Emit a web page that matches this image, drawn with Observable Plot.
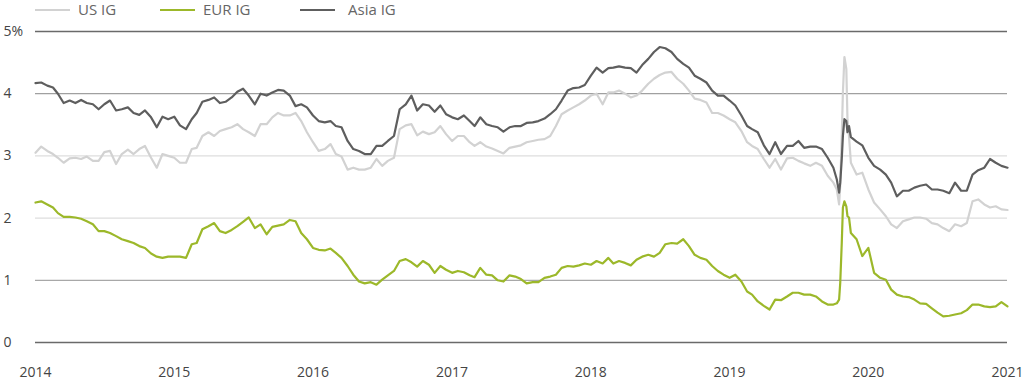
<!DOCTYPE html>
<html>
<head>
<meta charset="utf-8">
<script src="https://cdn.jsdelivr.net/npm/d3@7"></script>
<script src="https://cdn.jsdelivr.net/npm/@observablehq/plot@0.6"></script>
<style>
  html, body { margin: 0; padding: 0; background: #fff; }
  body { width: 1024px; height: 382px; overflow: hidden; font-family: "Open Sans", sans-serif; }
  #legend { position: relative; height: 20px; width: 1024px; font-size: 15px; color: #666; }
  #legend .sw { position: absolute; top: 9px; width: 35px; height: 2px; }
  #legend .lb { position: absolute; top: 0px; line-height: 18px; }
</style>
</head>
<body>
<div id="legend"></div>
<div id="chart"></div>
<script>
// ---- data ----
const seriesNames = ["US IG", "EUR IG", "Asia IG"];
const seriesColors = ["#d2d2d2", "#9cb82a", "#5e5e5e"];

const dates = [
  "2014-01-01","2014-01-16","2014-02-01","2014-02-16","2014-03-01","2014-03-16","2014-04-01","2014-04-16","2014-05-01","2014-05-16","2014-06-01","2014-06-16",
  "2014-07-01","2014-07-16","2014-08-01","2014-08-16","2014-09-01","2014-09-16","2014-10-01","2014-10-16","2014-11-01","2014-11-16","2014-12-01","2014-12-16",
  "2015-01-01","2015-01-16","2015-02-01","2015-02-16","2015-03-01","2015-03-16","2015-04-01","2015-04-16","2015-05-01","2015-05-16",
  "2015-06-01","2015-06-16","2015-07-01","2015-07-16","2015-08-01","2015-08-16","2015-09-01","2015-09-16","2015-10-01","2015-10-16","2015-11-01","2015-11-16","2015-12-01","2015-12-16",
  "2016-01-01","2016-01-16","2016-02-01","2016-02-16","2016-03-01","2016-03-16","2016-04-01","2016-04-16","2016-05-01","2016-05-16","2016-06-01","2016-06-16",
  "2016-07-01","2016-07-16","2016-08-01","2016-08-16","2016-09-01","2016-09-16","2016-10-01","2016-10-16",
  "2016-11-01","2016-11-16","2016-12-01","2016-12-16",
  "2017-01-01","2017-01-16","2017-02-01","2017-02-16","2017-03-01","2017-03-16","2017-04-01","2017-04-16","2017-05-01","2017-05-16","2017-06-01","2017-06-16",
  "2017-07-01","2017-07-16","2017-08-01","2017-08-16","2017-09-01","2017-09-16","2017-10-01","2017-10-16","2017-11-01","2017-11-16","2017-12-01","2017-12-16",
  "2018-01-01","2018-01-16","2018-02-01","2018-02-16","2018-03-01",
  "2018-03-16","2018-04-01","2018-04-16","2018-05-01","2018-05-16","2018-06-01","2018-06-16","2018-07-01","2018-07-16","2018-08-01","2018-08-16",
  "2018-09-01","2018-09-16","2018-10-01","2018-10-16","2018-11-01","2018-11-16","2018-12-01","2018-12-16",
  "2019-01-01","2019-01-16","2019-02-01","2019-02-16","2019-03-01","2019-03-16","2019-04-01","2019-04-16","2019-05-01","2019-05-16","2019-06-01","2019-06-16","2019-07-01","2019-07-16","2019-08-01",
  "2019-08-16","2019-09-01","2019-09-16","2019-10-01","2019-10-10","2019-10-16","2019-10-19","2019-10-23","2019-10-26","2019-10-30","2019-11-04","2019-11-07","2019-11-11","2019-11-16",
  "2019-12-01","2019-12-16","2020-01-01","2020-01-16","2020-02-01","2020-02-16","2020-03-01","2020-03-16","2020-04-01","2020-04-16","2020-05-01","2020-05-16",
  "2020-06-01","2020-06-16","2020-07-01","2020-07-16","2020-08-01","2020-08-16","2020-09-01","2020-09-16","2020-10-01","2020-10-16","2020-11-01","2020-11-16",
  "2020-12-01","2020-12-16","2021-01-01"
];

const usIG = [
  3.05,3.15,3.08,3.03,2.97,2.89,2.96,2.97,2.95,2.99,2.92,2.92,3.06,3.08,2.87,3.03,3.10,3.03,3.11,3.16,2.97,2.81,3.03,3.00,2.97,2.89,2.89,3.11,3.13,3.32,3.38,3.32,3.40,3.43,
  3.46,3.51,3.43,3.38,3.32,3.51,3.51,3.62,3.69,3.65,3.65,3.69,3.56,3.38,3.22,3.08,3.11,3.19,3.03,2.99,2.78,2.81,2.78,2.78,2.81,2.95,2.84,2.92,2.97,3.43,3.49,3.51,3.33,3.39,
  3.35,3.38,3.48,3.35,3.24,3.32,3.32,3.22,3.16,3.22,3.15,3.12,3.08,3.04,3.13,3.15,3.17,3.22,3.24,3.26,3.27,3.32,3.48,3.67,3.73,3.78,3.83,3.89,3.97,4.00,3.83,4.02,4.02,
  4.05,4.00,3.94,3.97,4.05,4.16,4.24,4.30,4.34,4.35,4.24,4.16,4.05,3.92,3.90,3.86,3.69,3.69,3.65,3.59,3.54,3.40,3.22,3.16,3.11,2.95,2.81,2.95,2.78,2.96,2.97,2.92,2.88,2.84,
  2.89,2.84,2.68,2.57,2.46,2.22,2.52,3.32,4.02,4.59,4.40,3.59,3.32,2.89,2.70,2.73,2.46,2.25,2.14,2.03,1.90,1.84,1.95,1.98,2.01,2.01,1.99,1.92,1.90,1.84,1.79,1.90,1.87,1.92,2.27,2.30,2.22,2.17,2.19,2.14,2.13
];

const eurIG = [
  2.25,2.27,2.22,2.17,2.08,2.02,2.02,2.01,1.99,1.95,1.90,1.79,1.79,1.76,1.71,1.66,1.63,1.60,1.55,1.52,1.43,1.38,1.36,1.38,1.38,1.38,1.36,1.58,1.60,1.82,1.87,1.92,1.79,1.76,
  1.81,1.87,1.94,2.01,1.84,1.90,1.74,1.86,1.88,1.90,1.97,1.95,1.76,1.66,1.52,1.49,1.48,1.51,1.44,1.36,1.23,1.09,0.98,0.95,0.97,0.93,1.01,1.08,1.15,1.31,1.34,1.29,1.22,1.31,
  1.25,1.12,1.23,1.17,1.12,1.15,1.13,1.08,1.05,1.20,1.09,1.08,1.00,0.98,1.08,1.06,1.02,0.95,0.97,0.97,1.04,1.06,1.09,1.20,1.23,1.22,1.24,1.27,1.25,1.31,1.27,1.36,1.27,
  1.31,1.28,1.24,1.33,1.38,1.41,1.38,1.44,1.58,1.60,1.59,1.66,1.55,1.41,1.36,1.33,1.23,1.15,1.09,1.04,1.09,0.98,0.82,0.77,0.66,0.59,0.53,0.69,0.68,0.74,0.80,0.80,0.77,0.77,
  0.74,0.66,0.61,0.61,0.63,0.69,0.96,1.60,2.17,2.27,2.19,2.03,2.01,1.76,1.66,1.39,1.52,1.12,1.04,1.01,0.85,0.77,0.74,0.73,0.69,0.63,0.62,0.55,0.48,0.42,0.43,0.45,0.47,0.52,0.61,0.61,0.58,0.57,0.58,0.65,0.58
];

const asiaIG = [
  4.17,4.18,4.13,4.10,4.00,3.85,3.89,3.85,3.90,3.85,3.83,3.75,3.83,3.89,3.73,3.75,3.78,3.69,3.66,3.73,3.62,3.46,3.63,3.59,3.63,3.49,3.43,3.59,3.69,3.87,3.90,3.94,3.85,3.87,
  3.94,4.03,4.08,3.97,3.83,4.00,3.97,4.02,4.06,4.05,3.97,3.80,3.83,3.78,3.65,3.56,3.54,3.56,3.48,3.46,3.24,3.11,3.08,3.03,3.03,3.16,3.16,3.24,3.32,3.75,3.83,3.97,3.73,3.83,
  3.81,3.71,3.81,3.67,3.62,3.59,3.65,3.56,3.48,3.62,3.51,3.48,3.46,3.39,3.46,3.48,3.48,3.53,3.54,3.56,3.60,3.67,3.75,3.89,4.05,4.09,4.10,4.14,4.29,4.42,4.34,4.41,4.42,
  4.44,4.42,4.41,4.34,4.46,4.56,4.67,4.75,4.73,4.67,4.56,4.48,4.42,4.29,4.24,4.18,4.05,3.97,3.97,3.89,3.81,3.65,3.48,3.43,3.38,3.17,3.03,3.22,3.03,3.16,3.16,3.24,3.13,3.15,
  3.15,3.11,2.97,2.81,2.62,2.41,2.57,2.95,3.32,3.59,3.56,3.38,3.48,3.30,3.23,3.17,2.97,2.84,2.78,2.70,2.57,2.35,2.44,2.44,2.49,2.52,2.54,2.46,2.46,2.44,2.40,2.57,2.44,2.44,2.70,2.77,2.81,2.95,2.89,2.84,2.81
];

const yTicks = [0, 1, 2, 3, 4, 5];
const yTickLabels = ["0", "1", "2", "3", "4", "5%"];
const gridColors = ["#6a6a6a", "#a8a8a8", "#dedede", "#dedede", "#a0a0a0", "#6a6a6a"];
const xTickYears = [2014, 2015, 2016, 2017, 2018, 2019, 2020, 2021];

// ---- build ----
const seriesValues = [usIG, eurIG, asiaIG];
const rows = seriesValues.map((vals, s) =>
  dates.map((d, i) => ({ date: new Date(d), value: vals[i], series: seriesNames[s] }))
);
const xTicks = xTickYears.map(y => new Date(Date.UTC(y, 0, 1)));

// legend
const legend = document.getElementById("legend");
const legendPos = [[35, 78], [160, 203], [300, 348]];
seriesNames.forEach((name, i) => {
  const sw = document.createElement("div");
  sw.className = "sw";
  sw.style.left = legendPos[i][0] + "px";
  sw.style.background = seriesColors[i];
  legend.appendChild(sw);
  const lb = document.createElement("div");
  lb.className = "lb";
  lb.style.left = legendPos[i][1] + "px";
  lb.textContent = name;
  legend.appendChild(lb);
});

const chart = Plot.plot({
  width: 1024,
  height: 362,
  marginTop: 11,
  marginBottom: 40,
  marginLeft: 35,
  marginRight: 17,
  style: { fontFamily: "'Open Sans', sans-serif", fontSize: "14px", color: "#444", background: "#fff" },
  x: { type: "utc", domain: [xTicks[0], xTicks[xTicks.length - 1]], label: null },
  y: { domain: [0, 5], label: null },
  marks: [
    ...yTicks.map((t, i) => Plot.ruleY([t], { stroke: gridColors[i], strokeWidth: (t === 0 || t === 5) ? 1.6 : 1.3 })),
    ...rows.map((r, s) => Plot.line(r, { x: "date", y: "value", stroke: seriesColors[s], strokeWidth: 2.2, curve: "linear" })),
    Plot.axisX({ ticks: xTicks, tickSize: 0, tickPadding: 25, tickFormat: d3.utcFormat("%Y"), label: null }),
    Plot.axisY({ ticks: yTicks, tickSize: 0, tickPadding: 32, textAnchor: "start", tickFormat: d => yTickLabels[yTicks.indexOf(d)], label: null })
  ]
});
document.getElementById("chart").appendChild(chart);
</script>
</body>
</html>
